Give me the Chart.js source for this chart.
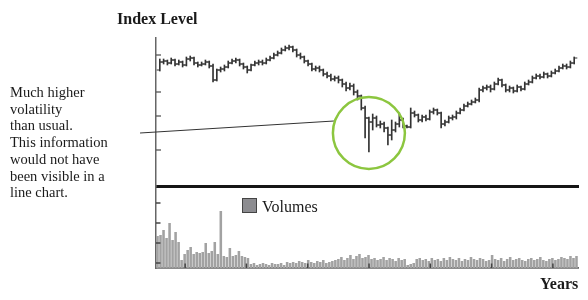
<!DOCTYPE html>
<html>
<head>
<meta charset="utf-8">
<script src="https://cdn.jsdelivr.net/npm/chart.js@4.4.1/dist/chart.umd.min.js"></script>
<style>
  html, body { margin: 0; padding: 0; background: #fff; }
  #wrap { position: relative; width: 588px; height: 300px; overflow: hidden;
          font-family: 'Liberation Serif', 'DejaVu Serif', serif; color: #1a1a1a; }
  #topBox { position: absolute; left: 0; top: 0; width: 588px; height: 192px; }
  #volBox { position: absolute; left: 0; top: 180px; width: 588px; height: 120px; }
  .lbl { position: absolute; white-space: nowrap; }
  .title { font-weight: bold; font-size: 16px; }
  #note { left: 10px; top: 84px; font-size: 14.5px; line-height: 16.7px; }
  #legend { left: 242px; top: 198px; font-size: 16px; }
  #legend span.box { display: inline-block; width: 13px; height: 13px; background: #8c8c90;
                     border: 1.5px solid #444; vertical-align: -1px; margin-right: 5px; }
</style>
</head>
<body>
<div id="wrap">
  <div id="topBox"><canvas id="priceChart" width="588" height="192"></canvas></div>
  <div id="volBox"><canvas id="volChart" width="588" height="120"></canvas></div>
  <div class="lbl title" style="left:117px; top:10px;">Index Level</div>
  <div class="lbl title" style="left:540px; top:275px;">Years</div>
  <div class="lbl" id="note">Much higher<br>volatility<br>than usual.<br>This information<br>would not have<br>been visible in a<br>line chart.</div>
  <div class="lbl" id="legend"><span class="box"></span>Volumes</div>
</div>
<script>
// --- data ---
const opens = [116,124,125,123,126,122,124,121,127,128, 123,121,122,124,120,106,116,117,119,123,
  125,126,122,119,116,121,123,124,123,126, 128,131,133,136,138,139,136,131,129,125,
  122,117,118,116,112,110,107,108,106,102, 98,100,94,90,78,68,64,68,61,62,
  58,51,56,62,66,60,59,73,71,66, 69,67,74,76,73,62,64,68,69,73,
  76,80,82,84,86,96,98,99,97,102, 106,101,96,98,95,99,97,102,104,108,
  110,109,112,110,113,115,118,120,119,123];
const highs = [127,127,126,128,127,126,125,129,130,129, 124,124,126,125,122,117,119,121,125,127,
  128,127,123,120,122,125,126,126,128,130, 133,135,138,140,141,140,137,133,130,126,
  123,120,120,117,114,112,110,110,107,104, 103,102,96,91,80,69,72,70,65,64,
  59,66,64,73,68,61,78,75,72,71, 71,76,78,77,74,66,70,71,75,78,
  82,84,86,88,98,100,101,101,104,108, 107,102,100,99,101,100,104,106,110,112,
  112,114,113,115,117,120,122,122,125,129];
const lows = [115,122,121,122,120,121,119,120,125,121, 119,120,121,118,104,105,114,115,118,122,
  123,120,117,113,115,120,121,121,122,125, 127,130,132,135,136,134,129,127,123,120,
  115,115,114,110,108,105,105,103,99,95, 96,91,86,76,48,34,56,59,58,54,
  41,46,54,59,58,58,58,69,64,64, 65,66,72,71,58,60,63,66,67,72,
  75,79,81,83,84,94,96,94,96,101, 99,94,94,93,94,95,96,101,103,107,
  107,108,108,109,112,114,117,117,118,122];
const closes = [124,125,123,126,122,124,121,127,128,123, 121,122,124,120,106,116,117,119,123,125,
  126,122,119,116,121,123,124,123,126,128, 131,133,136,138,139,136,131,129,125,122,
  117,118,116,112,110,107,108,106,102,98, 100,94,90,78,68,64,68,61,62,58,
  51,56,62,66,60,59,73,71,66,69, 67,74,76,73,62,64,68,69,73,76,
  80,82,84,86,96,98,99,97,102,106, 101,96,98,95,99,97,102,104,108,110,
  109,112,110,113,115,118,120,119,123,128];

const volumes = [32,33,38,30,45,28,36,26,8,14,18,21,14,16,15,16,25,15,17,26,14,57,12,11,20,12,13,17,12,11,10,
  4,5,3,4,5,4,3,5,4,4,5,3,6,5,
  6,5,7,6,5,8,6,5,7,6,8,5,6,7,
  8,9,11,8,10,13,9,12,14,10,11,13,9,
  10,8,9,11,8,10,9,7,10,8,9,
  3,4,5,
  9,10,8,9,7,10,
  8,9,7,10,8,11,9,8,10,7,9,8,11,9,8,10,9,7,8,
  13,
  9,8,10,7,9,11,8,9,10,8,7,9,10,8,9,11,8,7,9,10,8,9,11,10,9,12,10,
  12];

const levelTicks = [131, 94, 70, 36];
const volumeTicks = [65, 45, 25, 5];
const yearMarks = [9.67, 30, 50.33, 70.67, 91, 111.33, 131.67];

// annotation: pointer line and ring, in data units (period, level)
const pointerFrom = [-5.2, 53];
const pointerTo = [45.8, 65];
const ringCenter = [55, 53];

// ticks drawn inward from the axis line
const innerTicks = {
  id: 'innerTicks',
  afterDraw(chart, args, opts) {
    const ctx = chart.ctx;
    ctx.save();
    ctx.strokeStyle = opts.color;
    ctx.lineWidth = opts.width;
    opts.axes.forEach(id => {
      const s = chart.scales[id];
      s.ticks.forEach(t => {
        const p = s.getPixelForValue(t.value);
        ctx.beginPath();
        if (s.isHorizontal()) { ctx.moveTo(p, s.top); ctx.lineTo(p, s.top - opts.length); }
        else { ctx.moveTo(s.right, p); ctx.lineTo(s.right + opts.length, p); }
        ctx.stroke();
      });
    });
    ctx.restore();
  }
};

const ringNote = {
  id: 'ringNote',
  afterDatasetsDraw(chart) {
    const { ctx, scales: { x, y } } = chart;
    ctx.save();
    ctx.strokeStyle = '#333';
    ctx.lineWidth = 1;
    ctx.beginPath();
    ctx.moveTo(x.getPixelForValue(pointerFrom[0]), y.getPixelForValue(pointerFrom[1]));
    ctx.lineTo(x.getPixelForValue(pointerTo[0]), y.getPixelForValue(pointerTo[1]));
    ctx.stroke();
    ctx.strokeStyle = '#8cc63f';
    ctx.lineWidth = 2.5;
    ctx.beginPath();
    ctx.arc(x.getPixelForValue(ringCenter[0]), y.getPixelForValue(ringCenter[1]), 36, 0, Math.PI * 2);
    ctx.stroke();
    ctx.restore();
  }
};

const hideTicks = { display: false };
const noGrid = { drawOnChartArea: false, drawTicks: false };

new Chart(document.getElementById('priceChart'), {
  type: 'bar',
  data: {
    datasets: [
      { type: 'bar', data: lows.map((l, i) => ({ x: i, y: [l, highs[i]] })),
        backgroundColor: '#333', barThickness: 1 },
      { type: 'scatter', data: opens.map((o, i) => ({ x: i - 0.4, y: o })),
        pointStyle: 'line', pointRadius: 1.6, pointBorderWidth: 1, pointBorderColor: '#333' },
      { type: 'scatter', data: closes.map((c, i) => ({ x: i + 0.4, y: c })),
        pointStyle: 'line', pointRadius: 1.6, pointBorderWidth: 1, pointBorderColor: '#333' }
    ]
  },
  options: {
    responsive: false, animation: false, events: [],
    layout: { padding: { left: 156, right: 10, top: 38, bottom: 6 } },
    plugins: { legend: { display: false }, tooltip: { enabled: false },
      innerTicks: { axes: ['y'], color: '#555', width: 1.3, length: 5 } },
    scales: {
      x: { type: 'linear', min: -1, max: 110, offset: false, ticks: hideTicks, grid: noGrid,
           border: { color: '#151515', width: 3 } },
      y: { min: 0, max: 148, ticks: hideTicks, grid: noGrid,
           border: { color: '#666', width: 1.5 },
           afterBuildTicks: s => { s.ticks = levelTicks.map(v => ({ value: v })); } }
    }
  },
  plugins: [innerTicks, ringNote]
});

new Chart(document.getElementById('volChart'), {
  type: 'bar',
  data: {
    datasets: [{ label: 'Volumes', data: volumes.map((v, j) => ({ x: j + 0.5, y: v })),
      backgroundColor: '#a2a2a2', barPercentage: 0.85, categoryPercentage: 1 }]
  },
  options: {
    responsive: false, animation: false, events: [],
    layout: { padding: { left: 156, right: 10, top: 6, bottom: 32 } },
    plugins: { legend: { display: false }, tooltip: { enabled: false },
      innerTicks: { axes: ['x', 'y'], color: '#444', width: 1.5, length: 4.5 } },
    scales: {
      x: { type: 'linear', min: 0, max: 140, offset: false, ticks: hideTicks, grid: noGrid,
           border: { color: '#666', width: 1.8 },
           afterBuildTicks: s => { s.ticks = yearMarks.map(v => ({ value: v })); } },
      y: { min: 0, max: 82, ticks: hideTicks, grid: noGrid,
           border: { color: '#666', width: 1.5 },
           afterBuildTicks: s => { s.ticks = volumeTicks.map(v => ({ value: v })); } }
    }
  },
  plugins: [innerTicks]
});
</script>
</body>
</html>
